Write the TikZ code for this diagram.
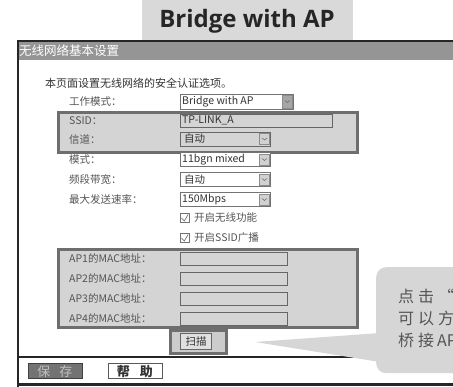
\documentclass[tikz,border=0pt]{standalone}
\usepackage{fontspec}
\setmainfont{Noto Sans CJK SC}
\newfontfamily\titlefont{Open Sans}
\definecolor{hlfill}{HTML}{D4D4D4}
\definecolor{hldraw}{HTML}{6E6E6E}
\definecolor{barfill}{HTML}{959595}
\definecolor{titlebox}{HTML}{D9D9D9}
\definecolor{callfill}{HTML}{D6D6D6}
\definecolor{lblcol}{HTML}{555555}
\definecolor{txtcol}{HTML}{333333}
\begin{document}
\begin{tikzpicture}[x=1pt,y=-1pt,
  lbl/.style={anchor=west,inner sep=0pt,font=\fontsize{10.5}{11}\selectfont,text=lblcol},
  fldtxt/.style={anchor=west,inner sep=0pt,font=\fontsize{10.5}{11}\selectfont,text=txtcol},
  dd/.style={draw=black!55,fill=white,line width=0.7pt,inner sep=0pt,anchor=west,minimum height=14pt},
  ddclear/.style={draw=black!60,line width=0.8pt,inner sep=0pt,anchor=west,minimum height=13pt},
  ddbtn/.style={draw=black!45,fill=black!18,line width=0.5pt,minimum width=10pt,minimum height=11pt,inner sep=0pt,anchor=east},
  chev/.style={draw=black!60,line width=0.5pt},
  hl/.style={draw=hldraw,fill=hlfill,line width=3pt,inner sep=0pt,anchor=north west},
  cbox/.style={draw=black!55,line width=0.6pt,minimum width=9pt,minimum height=9pt,inner sep=0pt,anchor=west},
  tick/.style={draw=black!55,line width=0.7pt},
]
\useasboundingbox (0,0) rectangle (453,387);
\clip (0,0) rectangle (453,387);

% title box
\node[fill=titlebox,minimum width=211pt,minimum height=40pt,inner sep=0pt,anchor=north west] (titlebox) at (142,0) {};
\node[font=\titlefont\bfseries\fontsize{24}{24}\selectfont,text=black!85,inner sep=0pt] (title) at (247,21) {Bridge with AP};

% window frame
\fill[barfill] (17,41) rectangle (460,60);
\draw[line width=2pt,black!85] (17,41.5) -- (460,41.5);
\draw[line width=2pt,black!85] (17.5,41) -- (17.5,387);
\draw[line width=3pt,black!85] (17,385) -- (460,385);
\node[anchor=west,inner sep=0pt,font=\fontsize{12.5}{13}\selectfont,text=white] (bar) at (19,51) {无线网络基本设置};

\node[anchor=west,inner sep=0pt,font=\fontsize{11}{11}\selectfont,text=txtcol] (intro) at (45,83) {本页面设置无线网络的安全认证选项。};

% highlight boxes
\node[hl,minimum width=299pt,minimum height=40pt] (hl1) at (56.5,111.5) {};
\node[hl,minimum width=299pt,minimum height=78pt] (hl2) at (56.5,248.5) {};

% labels
\node[lbl] (l1) at (69,101.5) {工作模式：};
\node[lbl] (l2) at (69,120.5) {SSID：};
\node[lbl] (l3) at (69,139.5) {信道：};
\node[lbl] (l4) at (69,159.5) {模式：};
\node[lbl] (l5) at (69,179.5) {频段带宽：};
\node[lbl] (l6) at (69,199.5) {最大发送速率：};

% fields
\node[dd,minimum width=113pt,minimum height=15pt] (f1) at (180,101.5) {};
\node[ddbtn,fill=black!35,minimum height=13pt] (b1) at ([xshift=-1pt]f1.east) {};
\node[fldtxt] (t1) at ([xshift=2pt]f1.west) {Bridge with AP};

\node[ddclear,minimum width=152pt,minimum height=13pt] (f2) at (180,120.5) {};
\node[fldtxt] (t2) at ([xshift=2pt]f2.west) {TP-LINK\_A};

\node[ddclear,minimum width=90pt,minimum height=14pt] (f3) at (180,139) {};
\node[ddbtn] (b3) at ([xshift=-1pt]f3.east) {};
\node[fldtxt] (t3) at ([xshift=4pt]f3.west) {自动};

\node[dd,minimum width=90pt] (f4) at (180,159.5) {};
\node[ddbtn] (b4) at ([xshift=-1pt]f4.east) {};
\node[fldtxt] (t4) at ([xshift=2pt]f4.west) {11bgn mixed};

\node[dd,minimum width=90pt] (f5) at (180,179.5) {};
\node[ddbtn] (b5) at ([xshift=-1pt]f5.east) {};
\node[fldtxt] (t5) at ([xshift=4pt]f5.west) {自动};

\node[dd,minimum width=90pt] (f6) at (180,199.5) {};
\node[ddbtn] (b6) at ([xshift=-1pt]f6.east) {};
\node[fldtxt] (t6) at ([xshift=2pt]f6.west) {150Mbps};

\foreach \b in {b1,b3,b4,b5,b6}{
  \draw[chev] ([shift={(-2.5,-1)}]\b.center) -- ([shift={(0,1)}]\b.center) -- ([shift={(2.5,-1)}]\b.center);
}

% checkboxes
\node[cbox] (c1) at (180,218) {};
\draw[tick] ([shift={(1.5,0)}]c1.west) -- ([shift={(-0.5,3)}]c1.center) -- ([shift={(-1.5,-3.5)}]c1.east);
\node[lbl] (ct1) at (194,218) {开启无线功能};
\node[cbox] (c2) at (180,238) {};
\draw[tick] ([shift={(1.5,0)}]c2.west) -- ([shift={(-0.5,3)}]c2.center) -- ([shift={(-1.5,-3.5)}]c2.east);
\node[lbl] (ct2) at (194,238) {开启SSID广播};

% AP MAC rows
\foreach \i/\y in {1/258.5,2/278.5,3/298.5,4/318.5}{
  \node[lbl] (ap\i) at (69,\y) {AP\i 的MAC地址：};
  \node[ddclear,minimum width=107pt] (mac\i) at (180,\y) {};
}

% scan button
\node[draw=hldraw,fill=black!20,line width=3pt,minimum width=56pt,minimum height=23pt,inner sep=0pt,anchor=north west] (scanframe) at (168.5,329.5) {};
\node[draw=black!60,fill=black!12,line width=0.8pt,minimum width=31pt,minimum height=16pt,inner sep=0pt] (scan) at (196,341.5) {};
\node[fldtxt,anchor=center] (scantxt) at (scan.center) {扫描};

% separator
\draw[line width=1.5pt,black!85] (17,357) -- (460,357);

% bottom buttons
\node[draw=black!75,fill=black!55,line width=0.8pt,minimum width=54pt,minimum height=15pt,inner sep=0pt,anchor=north west,font=\fontsize{13}{13}\selectfont,text=black!25] (save) at (27.5,363.5) {保\hspace{9pt}存};
\node[draw=black!65,fill=white,line width=0.8pt,minimum width=54pt,minimum height=15pt,inner sep=0pt,anchor=north west,font=\fontsize{13}{13}\selectfont\bfseries,text=txtcol] (help) at (107.5,363.5) {帮\hspace{10pt}助};

% callout
\coordinate (tip) at (255,342);
\fill[callfill] (tip) -- (380,333) -- (380,362) -- cycle;
\node[fill=callfill,rounded corners=10pt,minimum width=100pt,minimum height=106pt,inner sep=0pt,anchor=north west] (callout) at (376,267) {};
\node[anchor=west,inner sep=0pt,font=\fontsize{16}{16}\selectfont,text=lblcol] (co1) at (398,296) {点\kern4pt 击\kern4pt “};
\node[anchor=west,inner sep=0pt,font=\fontsize{16}{16}\selectfont,text=lblcol] (co2) at (398,318) {可\kern4pt 以\kern4pt 方};
\node[anchor=west,inner sep=0pt,font=\fontsize{16}{16}\selectfont,text=lblcol] (co3) at (398,340) {桥\kern4pt 接\kern3pt AP};
\end{tikzpicture}
\end{document}
